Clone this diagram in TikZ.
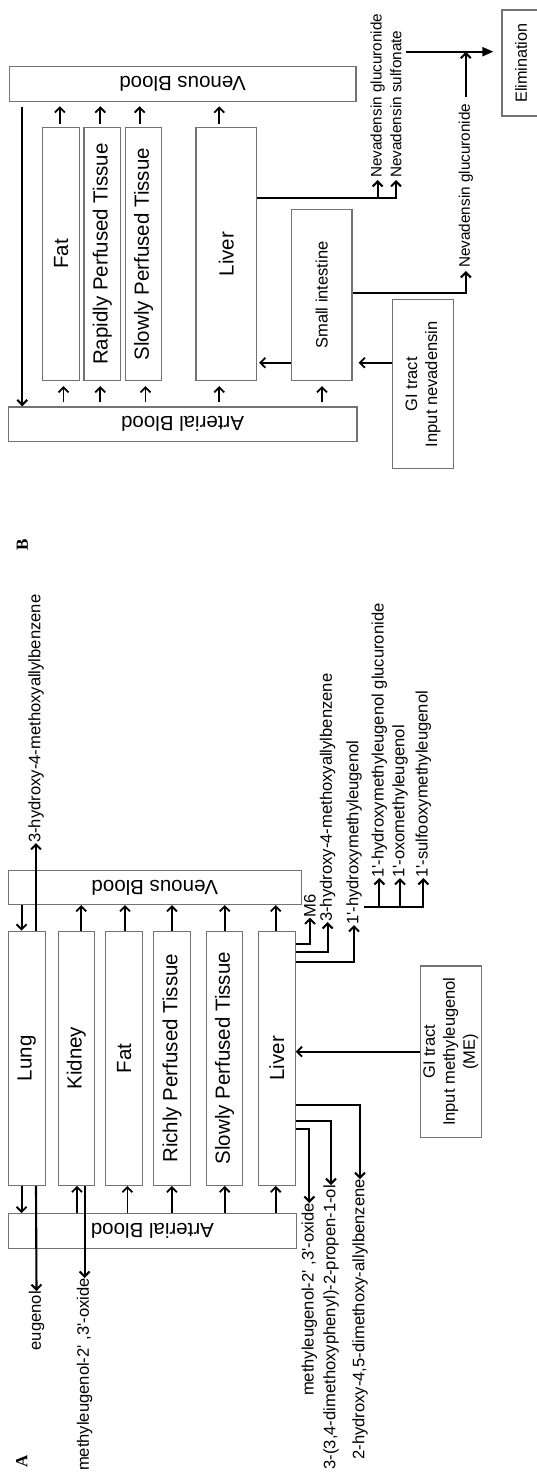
\documentclass[tikz,border=0pt]{standalone}
\usepackage{fontspec}
\setmainfont{Liberation Sans}[Ligatures=TeXOff]
\newfontfamily\panelfont{Liberation Serif}
\usepackage{graphicx}
\usetikzlibrary{arrows.meta}
\tikzset{
  box/.style 2 args={draw=black!55, line width=1.2pt, inner sep=0pt,
    minimum width=#1, minimum height=#2, font=\fontsize{20.5}{24}\selectfont},
  smallbox/.style 2 args={box={#1}{#2}, font=\fontsize{16.5}{20}\selectfont},
  lab/.style={inner sep=0pt, rotate=90, font=\fontsize{16.6}{20}\selectfont},
  nlab/.style={inner sep=0pt, rotate=90, font=\fontsize{15.3}{18}\selectfont},
  conn/.style={line width=2.1pt, -{Straight Barb[length=5pt,width=10pt]}},
  tconn/.style={line width=1.8pt, -{Straight Barb[length=5pt,width=10pt]}},
  panel/.style={inner sep=0pt, rotate=90, font=\panelfont\bfseries\fontsize{17}{19}\selectfont},
}
\begin{document}
\begin{tikzpicture}[x=1pt,y=-1pt]
\useasboundingbox (0,0) rectangle (537,1479);

% ---------------- Panel B ----------------
\node[box={346.8pt}{34.9pt}] (venB) at (182.6,84.25) {\rotatebox{180}{Venous Blood}};
\node[box={348.8pt}{34.4pt}] (artB) at (182.6,424.2) {\rotatebox{180}{Arterial Blood}};
\node[box={36.7pt}{252.8pt}] (fatB) at (61.15,254.1) {\rotatebox{90}{Fat}};
\node[box={36.6pt}{252.8pt}] (rapB) at (102.2,254.1) {\rotatebox{90}{Rapidly Perfused Tissue}};
\node[box={35.9pt}{252.8pt}] (sloB) at (143.65,254.1) {\rotatebox{90}{Slowly Perfused Tissue}};
\node[box={60.6pt}{252.8pt}] (livB) at (226.2,254.1) {\rotatebox{90}{Liver}};
\node[smallbox={60.6pt}{170.9pt}] (siB) at (321.7,295.05) {\rotatebox{90}{Small intestine}};
\node[smallbox={61.3pt}{169.1pt}] (giB) at (423.15,384.25)
  {\rotatebox{90}{\begin{tabular}{@{}c@{}}GI tract\\Input nevadensin\end{tabular}}};
\node[box={38pt}{106pt}, font=\fontsize{16.2}{20}\selectfont] (elim) at (521,63) {\rotatebox{90}{Elimination}};

\node[nlab, anchor=west] (ng1) at (377.7,178) {Nevadensin glucuronide};
\node[nlab, anchor=west] (ns1) at (396,178) {Nevadensin sulfonate};
\node[nlab, anchor=west] (ng2) at (465.8,268) {Nevadensin glucuronide};
\coordinate (eS) at (405.8,51.7);
\node[panel] (pB) at (22.3,545) {B};

\draw[conn, shorten <=5pt] (22.3,0 |- venB.south) -- (22.3,0 |- artB.north);
\foreach \x/\n in {59.9/fatB, 100.3/rapB, 139.7/sloB, 219.2/livB}
  \draw[tconn, shorten <=3pt, shorten >=4pt] (\x,0 |- \n.north) -- (\x,0 |- venB.south);
\foreach \x/\n in {63.4/fatB, 100.3/rapB, 145.5/sloB, 219.2/livB, 321.9/siB}
  \draw[tconn, shorten <=4pt, shorten >=5pt] (\x,0 |- artB.north) -- (\x,0 |- \n.south);
\draw[tconn, shorten >=2pt] (siB.west |- 0,362.7) -- (livB.east |- 0,362.7);
\draw[tconn, shorten >=6pt] (giB.west |- 0,362.7) -- (siB.east |- 0,362.7);
\draw[conn, shorten >=2pt] (livB.east |- 0,197.6) -| (ng1.west);
\draw[conn, shorten >=2pt] (livB.east |- 0,197.6) -| (ns1.west);
\draw[conn, shorten >=3pt] (siB.east |- 0,292.8) -| (ng2.west);
\draw[conn, shorten <=6pt] (ng2.east) -- (ng2.east |- eS);
\draw[line width=2.1pt, -{Triangle[length=11pt,width=9pt]}, shorten >=8pt] (eS) -- (eS -| elim.west);

% ---------------- Panel A ----------------
\node[box={293.2pt}{34.3pt}] (venA) at (154.8,887.35) {\rotatebox{180}{Venous Blood}};
\node[box={288.4pt}{34.9pt}] (artA) at (152.4,1231.15) {\rotatebox{180}{Arterial Blood}};
\node[box={37pt}{254.1pt}] (lung) at (26.7,1058.25) {\rotatebox{90}{Lung}};
\node[box={36.3pt}{254.1pt}] (kidney) at (76.35,1058.25) {\rotatebox{90}{Kidney}};
\node[box={36.7pt}{254.1pt}] (fatA) at (124.15,1058.25) {\rotatebox{90}{Fat}};
\node[box={36.6pt}{254.1pt}] (rich) at (172.1,1058.25) {\rotatebox{90}{Richly Perfused Tissue}};
\node[box={36.3pt}{254.1pt}] (slowA) at (224.65,1058.25) {\rotatebox{90}{Slowly Perfused Tissue}};
\node[box={36.6pt}{254.1pt}] (livA) at (276.9,1058.25) {\rotatebox{90}{Liver}};
\node[smallbox={60.7pt}{171.3pt}] (giA) at (450.85,1051.65)
  {\rotatebox{90}{\begin{tabular}{@{}c@{}}GI tract\\Input methyleugenol\\(ME)\end{tabular}}};

\node[lab, anchor=west] (l3h) at (36,843) {3-hydroxy-4-methoxyallylbenzene};
\node[lab, anchor=east] (eug) at (36.5,1291) {eugenol};
\node[lab, anchor=east] (kox) at (84.6,1278) {methyleugenol-2' ,3'-oxide};
\node[lab, anchor=west] (m6) at (310,917.5) {M6};
\node[lab, anchor=west] (l3h2) at (327.7,922) {3-hydroxy-4-methoxyallylbenzene};
\node[lab, anchor=west] (l1h) at (354,925) {1'-hydroxymethyleugenol};
\node[lab, anchor=west] (l1g) at (379.3,878) {1'-hydroxymethyleugenol glucuronide};
\node[lab, anchor=west] (l1o) at (400,878) {1'-oxomethyleugenol};
\node[lab, anchor=west] (l1s) at (423.3,878) {1'-sulfooxymethyleugenol};
\node[lab, anchor=east] (lmo) at (309.3,1203) {methyleugenol-2' ,3'-oxide};
\node[lab, anchor=east] (lpp) at (331,1185) {3-(3,4-dimethoxyphenyl)-2-propen-1-ol};
\node[lab, anchor=east] (lha) at (360,1179) {2-hydroxy-4,5-dimethoxy-allylbenzene};
\coordinate (br) at (364,906.7);
\node[panel] (pA) at (21.7,1461.7) {A};

\draw[tconn] (21.6,0 |- venA.south) -- (21.6,0 |- lung.north);
\draw[conn] (36,0 |- lung.north) -- (l3h.west);
\foreach \x/\n in {81.2/kidney, 125/fatA, 171.9/rich, 224.7/slowA, 275.7/livA}
  \draw[tconn] (\x,0 |- \n.north) -- (\x,0 |- venA.south);
\draw[tconn] (21.6,0 |- lung.south) -- (21.6,0 |- artA.north);
\draw[conn] (36,0 |- lung.south) -- (eug.east);
\foreach \x/\n in {77/kidney, 127.4/fatA, 171.9/rich, 224.7/slowA, 275.7/livA}
  \draw[tconn] (\x,0 |- artA.north) -- (\x,0 |- \n.south);
\draw[conn] (84.6,0 |- kidney.south) -- (kox.east);
\draw[conn] (livA.east |- 0,944) -| (m6.west);
\draw[conn] (livA.east |- 0,951.7) -| (l3h2.west);
\draw[conn] (livA.east |- 0,961.7) -| (l1h.west);
\draw[conn] (br) -| (l1g.west);
\draw[conn] (br) -| (l1o.west);
\draw[conn] (br) -| (l1s.west);
\draw[tconn] (giA.west) -- (giA.west -| livA.east);
\draw[conn] (livA.east |- 0,1129.3) -| (lmo.east);
\draw[conn] (livA.east |- 0,1120.7) -| (lpp.east);
\draw[conn] (livA.east |- 0,1105) -| (lha.east);
\end{tikzpicture}
\end{document}
